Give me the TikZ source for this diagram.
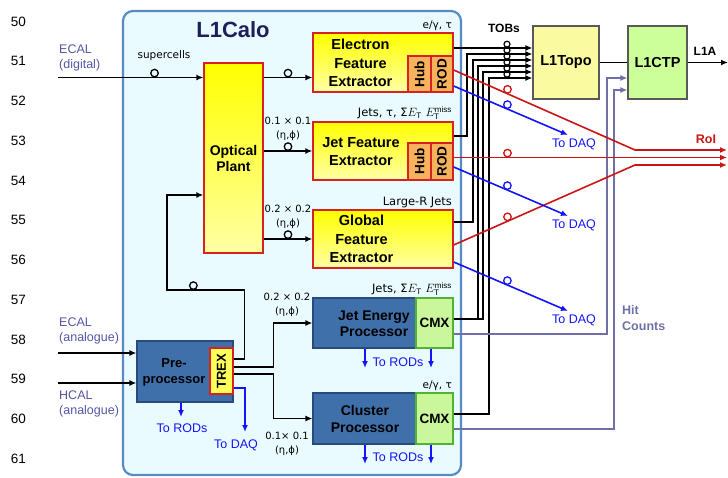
\documentclass[tikz,border=0pt]{standalone}
\usepackage{fontspec}
\setmainfont{Liberation Sans}
\newfontfamily\tagfont{DejaVu Sans}
\usetikzlibrary{arrows.meta}
\definecolor{calofill}{RGB}{234,251,255}
\definecolor{caloedge}{RGB}{90,138,196}
\definecolor{titlenavy}{RGB}{30,30,90}
\definecolor{fexred}{RGB}{214,34,34}
\definecolor{fexyellow}{RGB}{255,255,0}
\definecolor{fexpale}{RGB}{255,255,165}
\definecolor{hubfill}{RGB}{248,178,92}
\definecolor{trexfill}{RGB}{255,255,90}
\definecolor{procblue}{RGB}{64,112,170}
\definecolor{procedge}{RGB}{40,75,125}
\definecolor{cmxfill}{RGB}{202,246,156}
\definecolor{cmxedge}{RGB}{80,180,50}
\definecolor{topofill}{RGB}{250,250,160}
\definecolor{ctpfill}{RGB}{204,255,153}
\definecolor{inputtext}{RGB}{85,85,165}
\definecolor{daqblue}{RGB}{20,20,250}
\definecolor{roired}{RGB}{204,20,20}
\definecolor{hitgray}{RGB}{112,112,168}
\tikzset{
  calobox/.style={draw=caloedge, line width=2.2pt, rounded corners=10pt, fill=calofill, minimum width=338, minimum height=464, inner sep=0},
  fexbox/.style={draw=fexred, line width=1.3pt, top color=fexyellow, bottom color=fexpale, minimum width=140, inner sep=0},
  hubbox/.style={draw=fexred, line width=1.1pt, fill=hubfill, rotate=90, inner sep=0, font=\fontsize{13.5}{16}\selectfont\bfseries},
  procbox/.style={draw=procedge, line width=1.1pt, fill=procblue, inner sep=0},
  cmxbox/.style={draw=cmxedge, line width=1.1pt, fill=cmxfill, inner sep=0, font=\fontsize{13.5}{16}\selectfont\bfseries},
  trexbox/.style={draw=fexred, line width=1.1pt, fill=trexfill, rotate=90, inner sep=0, font=\fontsize{13}{16}\selectfont\bfseries},
  topbox/.style={draw=gray!70!black, line width=1.1pt, inner sep=0, font=\fontsize{14.5}{17}\selectfont\bfseries},
  boxtext/.style={align=center, inner sep=0, font=\fontsize{14}{16.5}\selectfont\bfseries},
  fextext/.style={align=center, inner sep=0, font=\fontsize{14.5}{18.7}\selectfont\bfseries},
  tagtext/.style={inner sep=1.5pt, font=\tagfont\fontsize{10.5}{13}\selectfont},
  bigtag/.style={tagtext, font=\tagfont\fontsize{11.5}{13}\selectfont},
  gran/.style={align=center, inner sep=0, font=\tagfont\fontsize{10}{14}\selectfont},
  inputtag/.style={align=left, inner sep=0, text=inputtext, font=\fontsize{12.5}{15.5}\selectfont},
  daqtext/.style={inner sep=0, text=daqblue, font=\fontsize{12.5}{15}\selectfont},
  bustext/.style={inner sep=0, font=\fontsize{12}{14}\selectfont\bfseries},
  lineno/.style={inner sep=0, font=\fontsize{13.5}{16}\selectfont},
  flow/.style={-{Latex[length=7pt, width=6pt]}, line width=1.6pt},
  link/.style={line width=1.6pt},
  daqflow/.style={flow, daqblue},
  roiflow/.style={flow, roired},
  hitflow/.style={flow, hitgray, line width=1.8pt},
  tap/.style={circle, draw, line width=1.3pt, minimum size=7.5pt, inner sep=0},
  tobtap/.style={tap, minimum size=6pt, line width=1.2pt},
  roitap/.style={tap, draw=roired},
  daqtap/.style={tap, draw=daqblue}
}
\begin{document}
\begin{tikzpicture}[x=1pt, y=-1pt]
  \useasboundingbox (0,0) rectangle (728,477);

  % line numbers
  \foreach \n [count=\i from 0] in {50,...,61}
    \node[lineno] (line\n) at (18.5,21.5+39.75*\i) {\n};

  % L1Calo crate
  \node[calobox] (calo) at (292,243) {};
  \node[font=\fontsize{22}{24}\selectfont\bfseries, text=titlenavy] (calotitle) at (233,30) {L1Calo};

  \node[fexbox, minimum width=59, minimum height=190, align=center, font=\fontsize{14}{16}\selectfont\bfseries] (optical) at (233.5,158) {Optical\\Plant};

  \node[fexbox, minimum height=59] (efex) at (383,62.5) {};
  \node[fextext] (efextext) at (360.5,63) {Electron\\Feature\\Extractor};
  \node[hubbox, minimum width=36, minimum height=23] (hubA) at (419.5,74) {Hub};
  \node[hubbox, minimum width=36, minimum height=22] (rodA) at (442,74) {ROD};

  \node[fexbox, minimum height=58] (jfex) at (383,151) {};
  \node[fextext] (jfextext) at (361,151.5) {Jet Feature\\Extractor};
  \node[hubbox, minimum width=37, minimum height=23] (hubB) at (419.5,161.5) {Hub};
  \node[hubbox, minimum width=37, minimum height=22] (rodB) at (442,161.5) {ROD};

  \node[fexbox, minimum height=58] (gfex) at (383,239) {};
  \node[fextext] (gfextext) at (361.5,239) {Global\\Feature\\Extractor};

  \node[procbox, minimum width=103, minimum height=50] (jep) at (364.5,323) {};
  \node[boxtext] (jeptext) at (374,323.5) {Jet Energy\\Processor};
  \node[cmxbox, minimum width=37, minimum height=50] (jepcmx) at (434.5,323) {CMX};

  \node[procbox, minimum width=103, minimum height=51] (cp) at (364.5,418.5) {};
  \node[boxtext] (cptext) at (365,419) {Cluster\\Processor};
  \node[cmxbox, minimum width=37, minimum height=51] (cpcmx) at (434.5,418.5) {CMX};

  \node[procbox, minimum width=96, minimum height=61] (prepro) at (185,371.5) {};
  \node[boxtext, font=\fontsize{13}{16}\selectfont\bfseries] (preprotext) at (174,372) {Pre-\\processor};
  \node[trexbox, minimum width=46, minimum height=23] (trex) at (221.5,371) {TREX};

  % trigger boxes outside
  \node[topbox, fill=topofill, minimum width=66, minimum height=73] (l1topo) at (566,62.5) {L1Topo};
  \node[topbox, fill=ctpfill, minimum width=59, minimum height=73] (l1ctp) at (657.5,62.5) {L1CTP};

  % object labels
  \node[tagtext, anchor=south east] (efextag) at (efex.north east) {e/γ, τ};
  \node[bigtag, anchor=south east] (jfextag) at (jfex.north east) {Jets, τ, Σ$E_{\mathrm{T}}$ $E_{\mathrm{T}}^{\mathrm{miss}}$};
  \node[bigtag, anchor=south east] (gfextag) at (gfex.north east) {Large-R Jets};
  \node[bigtag, anchor=south east] (jeptag) at (jepcmx.north east) {Jets, Σ$E_{\mathrm{T}}$ $E_{\mathrm{T}}^{\mathrm{miss}}$};
  \node[tagtext, anchor=south east] (cptag) at (cpcmx.north east) {e/γ, τ};
  \node[tagtext] (sclabel) at (164,56) {supercells};
  \node[gran] (jfexgran) at (288,129) {0.1 × 0.1\\(η,ϕ)};
  \node[gran] (gfexgran) at (288,217) {0.2 × 0.2\\(η,ϕ)};
  \node[gran] (jepgran) at (287,305) {0.2 × 0.2\\(η,ϕ)};
  \node[gran] (cpgran) at (287,444) {0.1× 0.1\\(η,ϕ)};

  % inputs
  \coordinate (ecaldig) at (58,77.5);
  \coordinate (ecalana) at (58,353);
  \coordinate (hcalana) at (58,383);
  \node[inputtag, anchor=west] (ecaldigtext) at (59,58) {ECAL\\(digital)};
  \node[inputtag, anchor=west] (ecalanatext) at (59,331) {ECAL\\(analogue)};
  \node[inputtag, anchor=west] (hcalanatext) at (59,404) {HCAL\\(analogue)};
  \draw[flow] (ecaldig) -- node[tap, pos=0.664, anchor=south] (sctap) {} (ecaldig -| optical.west);
  \draw[flow] (ecalana) -- (ecalana -| prepro.west);
  \draw[flow] (hcalana) -- (hcalana -| prepro.west);

  % optical plant to feature extractors
  \draw[flow] (optical.east |- ecaldig) -- node[tap, anchor=south] (efextap) {} (efex.west |- ecaldig);
  \draw[flow] (optical.east |- jfex) -- node[tap, anchor=south] (jfextap) {} (jfex.west);
  \draw[flow, line width=2.4pt] (optical.east |- gfex) -- node[tap, anchor=south] (gfextap) {} (gfex.west);

  % preprocessor outputs
  \draw[flow] (prepro.east |- 0,359) -- ++(11,0) |- node[tap, pos=0.83, anchor=south] (trextap) {} (167,290) |- (optical.west |- 0,195);
  \draw[flow] (prepro.east |- 0,367) -- ++(40,0) |- (jep.west);
  \draw[flow] (prepro.east |- 0,374) -- ++(40,0) |- (cp.west);
  \coordinate (trexdaq) at (245,432);
  \coordinate (preprorod) at (181,417);
  \draw[daqflow] (prepro.east |- 0,388) -| (trexdaq);
  \draw[daqflow] (prepro.south -| preprorod) -- (preprorod);
  \node[daqtext] (trexdaqtext) at (236,445) {To DAQ};
  \node[daqtext] (preprorodtext) at (182,428) {To RODs};

  % readout of legacy processors
  \foreach \p/\y in {jep/368, cp/464} {
    \draw[daqflow] (\p.south -| 365,0) -- (365,\y);
    \draw[daqflow] (\p cmx.south -| 431,0) -- (431,\y);
  }
  \node[daqtext] (jeprodtext) at (398,362) {To RODs};
  \node[daqtext] (cprodtext) at (398,457) {To RODs};

  % TOBs to L1Topo
  \draw[flow] (efex.east |- 0,48) -- (l1topo.west |- 0,48);
  \foreach \src/\ys/\xv/\yt in {jfex/136/467/54, gfex/222/473/60, jepcmx/319/478/66, jepcmx/319/483/72, cpcmx/414/489/78}
    \draw[flow] (\src.east |- 0,\ys) -| (\xv,\yt) -- (l1topo.west |- 0,\yt);
  \foreach \y [count=\i] in {48,54,60,66,72,78}
    \node[tobtap] (tobtap\i) at (507,\y-3.8) {};
  \node[bustext] (tobslabel) at (504,28) {TOBs};

  % L1Topo to CTP
  \coordinate (l1aout) at (728,62.5);
  \draw[link] (l1topo) -- (l1ctp);
  \draw[flow] (l1ctp.east) -- (l1aout);
  \node[bustext] (l1alabel) at (705,51) {L1A};

  % hit counts
  \draw[hitflow] (jepcmx.east |- 0,334) -| (607,78) -- (l1ctp.west |- 0,78);
  \draw[hitflow] (cpcmx.east |- 0,429) -| (614,90) -- (l1ctp.west |- 0,90);
  \node[bustext, text=hitgray, align=left, anchor=west, font=\fontsize{12.5}{16}\selectfont\bfseries] (hitlabel) at (622,318) {Hit\\Counts};

  % RoI
  \coordinate (roiA) at (727,150);
  \coordinate (roiB) at (727,157.5);
  \coordinate (roiC) at (727,165);
  \draw[roiflow] (efex.east |- 0,70) -- node[roitap, pos=0.297, anchor=south] (roitapA) {} (635,150) -- (roiA);
  \draw[roiflow] (jfex.east |- 0,157.5) -- node[roitap, pos=0.197, anchor=south] (roitapB) {} (roiB);
  \draw[roiflow] (gfex.east |- 0,245) -- node[roitap, pos=0.297, anchor=south] (roitapC) {} (635,165) -- (roiC);
  \node[bustext, text=roired, font=\fontsize{12.5}{15}\selectfont\bfseries] (roilabel) at (706,139) {RoI};

  % to DAQ
  \foreach \n/\src/\ya/\yb in {A/efex/86/135, B/jfex/167/216, C/gfex/262/311} {
    \coordinate (daq\n) at (568,\yb);
    \draw[daqflow] (\src.east |- 0,\ya) -- node[daqtap, pos=0.47, anchor=south] (daqtap\n) {} (daq\n);
    \node[daqtext] (daqtext\n) at (574,\yb+9.5) {To DAQ};
  }
\end{tikzpicture}
\end{document}
